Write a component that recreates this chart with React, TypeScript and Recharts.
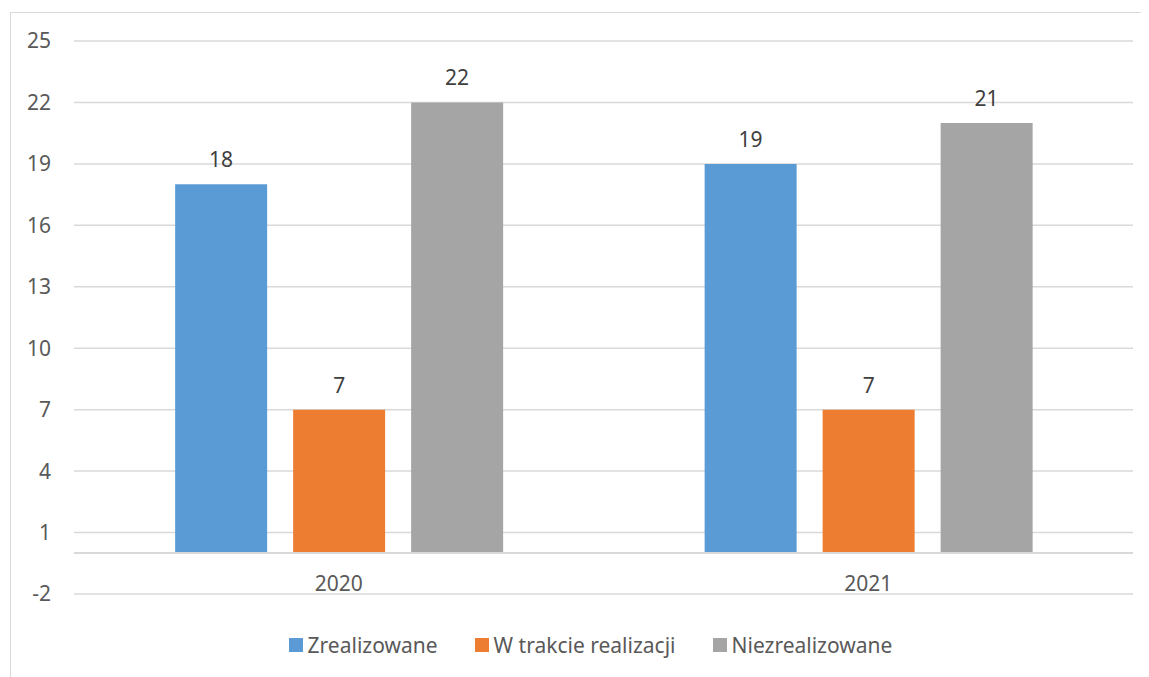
import {
  Bar,
  BarChart,
  CartesianGrid,
  LabelList,
  Legend,
  ReferenceLine,
  XAxis,
  YAxis,
} from 'recharts'

const years = ['2020', '2021']
const zrealizowane = [18, 19]
const wTrakcieRealizacji = [7, 7]
const niezrealizowane = [22, 21]
const yTicks = [-2, 1, 4, 7, 10, 13, 16, 19, 22, 25]

const series = [
  { key: 'zrealizowane', name: 'Zrealizowane', color: '#5b9bd5', values: zrealizowane },
  { key: 'wTrakcie', name: 'W trakcie realizacji', color: '#ed7d31', values: wTrakcieRealizacji },
  { key: 'niezrealizowane', name: 'Niezrealizowane', color: '#a5a5a5', values: niezrealizowane },
]

const data = years.map((year, i) => {
  const row: Record<string, string | number> = { year }
  series.forEach(s => {
    row[s.key] = s.values[i]
  })
  return row
})

const FONT = '"Noto Sans", "Open Sans", sans-serif'
const FONT_SIZE = 21

function YearTick(props: any) {
  const { x, y, payload } = props
  return (
    <text x={x} y={y - 3} textAnchor="middle" fill="#595959" fontSize={FONT_SIZE} fontFamily={FONT}>
      {payload.value}
    </text>
  )
}

// keep legend in series order (recharts may hand the payload over reversed)
function LegendContent(props: any) {
  const payload = props.payload || []
  const items = series.map(s => {
    const found = payload.find((p: any) => p.dataKey === s.key)
    return { name: s.name, color: found ? found.color : s.color }
  })
  return (
    <div
      style={{
        display: 'flex',
        justifyContent: 'center',
        alignItems: 'center',
        height: 24,
        paddingLeft: 40,
        fontFamily: FONT,
        fontSize: FONT_SIZE,
        color: '#595959',
      }}
    >
      {items.map((item, i) => (
        <div
          key={item.name}
          style={{ display: 'flex', alignItems: 'center', marginLeft: i === 0 ? 0 : 37 }}
        >
          <span style={{ width: 14, height: 14, background: item.color, marginRight: 5 }} />
          <span style={{ lineHeight: '24px' }}>{item.name}</span>
        </div>
      ))}
    </div>
  )
}

export default function App() {
  return (
    <div style={{ position: 'relative', width: 1141, height: 669, overflow: 'hidden' }}>
      <div
        style={{
          position: 'absolute',
          left: 2,
          top: 4,
          width: 1200,
          height: 700,
          border: '1px solid #d9d9d9',
        }}
      />
      <BarChart
        width={1141}
        height={669}
        data={data}
        margin={{ top: 33, right: 16, left: 0, bottom: 20 }}
        barCategoryGap="19.1%"
        barGap={26}
        style={{ position: 'absolute', left: 0, top: 0 }}
      >
        <CartesianGrid vertical={false} stroke="#d9d9d9" strokeWidth={1.5} />
        <XAxis
          dataKey="year"
          axisLine={false}
          tickLine={false}
          tickSize={0}
          tickMargin={0}
          height={39}
          tick={<YearTick />}
        />
        <YAxis
          domain={[-2, 25]}
          ticks={yTicks}
          interval={0}
          axisLine={false}
          tickLine={false}
          tickSize={0}
          tickMargin={23}
          width={66}
          tick={{ fill: '#595959', fontSize: FONT_SIZE, fontFamily: FONT }}
        />
        <ReferenceLine y={0} stroke="#d9d9d9" strokeWidth={2} />
        <Legend verticalAlign="bottom" content={<LegendContent />} />
        {series.map(s => (
          <Bar key={s.key} dataKey={s.key} name={s.name} fill={s.color} isAnimationActive={false}>
            <LabelList
              dataKey={s.key}
              position="top"
              offset={17}
              fill="#404040"
              fontSize={FONT_SIZE}
              fontFamily={FONT}
            />
          </Bar>
        ))}
      </BarChart>
    </div>
  )
}
